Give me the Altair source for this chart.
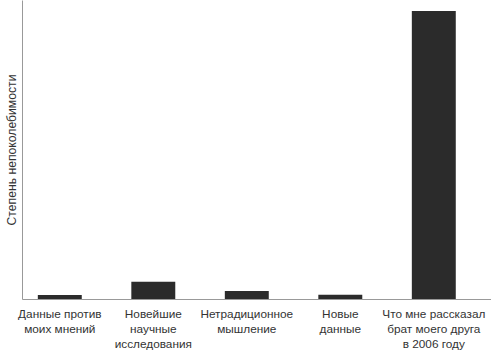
import altair as alt
import pandas as pd

categories = [
    "Данные против|моих мнений",
    "Новейшие|научные|исследования",
    "Нетрадиционное|мышление",
    "Новые|данные",
    "Что мне рассказал|брат моего друга|в 2006 году",
]
values = [1.3, 5.8, 2.7, 1.4, 96.3]

df = pd.DataFrame({"cat": categories, "val": values})

chart = alt.Chart(df).mark_bar(color="#2b2b2b").encode(
    x=alt.X("cat:N", sort=None,
            scale=alt.Scale(paddingInner=0.53, paddingOuter=0.273, align=0.31),
            axis=alt.Axis(title=None, labelAngle=0, ticks=False, domainColor="#999999",
                          labelExpr="split(datum.label, '|')", labelLineHeight=15,
                          labelFontSize=11.8, labelColor="#333333", labelPadding=9,
                          labelFont="Liberation Sans", labelBaseline="top")),
    y=alt.Y("val:Q", scale=alt.Scale(domain=[0, 100], nice=False),
            axis=alt.Axis(title="Степень непоколебимости", labels=False, ticks=False,
                          grid=False, domainColor="#999999", titleFontWeight="normal",
                          titleFontSize=12.2, titleColor="#333333", titleFont="Liberation Sans",
                          titlePadding=4)),
).properties(
    width=469, height=299,
    padding={"left": 22, "top": 0, "right": 0, "bottom": 55},
    autosize=alt.AutoSizeParams(type="none"),
).configure_view(stroke=None).configure_axis(grid=False)

chart.save("out.html", embed_options={"renderer": "svg", "actions": False})
